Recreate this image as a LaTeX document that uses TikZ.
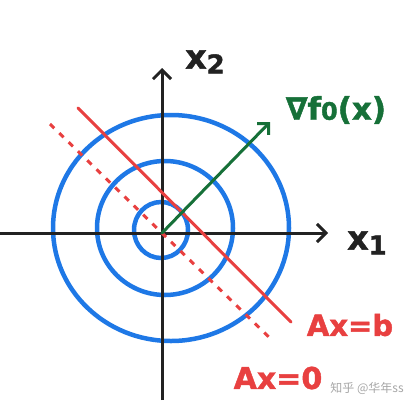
\documentclass[tikz,border=0pt]{standalone}
\usepackage{fontspec}
\setmainfont{DejaVu Sans}[FakeBold=1.5]
\newfontfamily\cjk{Noto Sans CJK SC}
\usetikzlibrary{arrows.meta}
\definecolor{pblue}{RGB}{30,120,230}
\definecolor{pred}{RGB}{232,64,64}
\definecolor{pgreen}{RGB}{22,112,56}
\definecolor{pblack}{RGB}{34,34,34}
\newcommand{\lowsub}[1]{\raisebox{-5pt}{\fontsize{26}{26}\selectfont #1}}
\newcommand{\smallz}[1]{{\fontsize{24}{24}\selectfont #1}}
\tikzset{
  axis/.style={pblack, line width=3pt, -{Straight Barb[length=9pt,width=18pt,line width=3pt]}},
  level/.style={pblue, line width=4.5pt},
  cons/.style={pred, line width=3pt, line cap=round},
  consdash/.style={pred, line width=3pt, dash pattern=on 6pt off 7pt},
  grad/.style={pgreen, line width=3pt, line cap=round, -{Straight Barb[length=8pt,width=16pt,line width=3pt]}},
  lab/.style={inner sep=0pt, font=\bfseries\fontsize{33}{33}\selectfont},
}
\begin{document}
\begin{tikzpicture}[x=1pt,y=-1pt]
\useasboundingbox (0,0) rectangle (419,412);
\coordinate (O) at (162,233);
\coordinate (xl) at (0,233);
\coordinate (xr) at (328,233);
\coordinate (yb) at (162,400);
\coordinate (yt) at (162,68);
% level sets
\draw[level] (161,230) ellipse [x radius=27, y radius=28];
\draw[level] (165,228) ellipse [x radius=68, y radius=67];
\draw[level] (171,228) ellipse [x radius=118, y radius=113];
% axes
\draw[axis] (xl) -- (xr);
\draw[axis] (yb) -- (yt);
% constraints
\coordinate (s1) at (78,108);
\coordinate (s2) at (291,322);
\coordinate (d1) at (50,124);
\coordinate (d2) at (273,341);
\draw[cons] (s1) -- (s2);
\draw[consdash] (d1) -- (d2);
% gradient
\coordinate (g) at (270,122);
\draw[grad] (O) -- (g);
% labels
\node[lab, pblack] (lx2) at (205,62) {x\lowsub{2}};
\node[lab, pblack] (lx1) at (367,243) {x\lowsub{1}};
\node[lab, pgreen, font=\bfseries\fontsize{31}{31}\selectfont] (lgrad) at (336,110) {∇f\smallz{0}(x)};
\node[lab, pred, font=\bfseries\fontsize{29}{29}\selectfont] (lb) at (350,325) {Ax=b};
\node[lab, pred, font=\bfseries\fontsize{30}{30}\selectfont] (l0) at (278,378) {Ax=0};
\node[inner sep=0pt, text=black!35, font=\cjk\fontsize{12}{12}\selectfont] (wm) at (367,388) {知乎 @华年ss};
\end{tikzpicture}
\end{document}
